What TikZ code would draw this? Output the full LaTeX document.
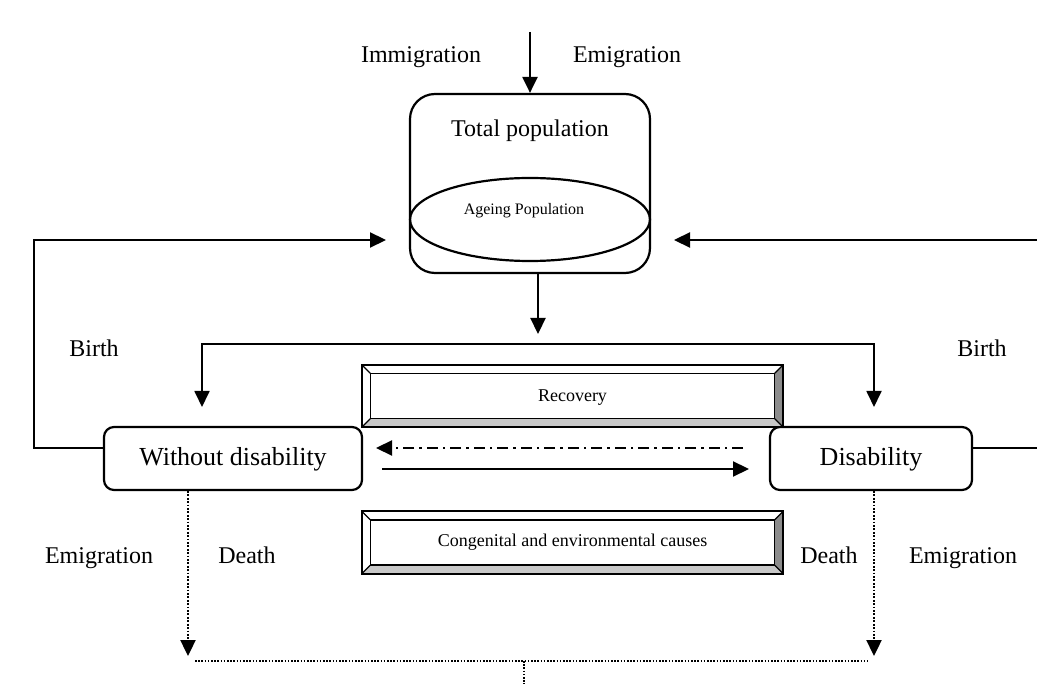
\documentclass[tikz,border=0pt]{standalone}
\usepackage{fontspec}
\setmainfont{Liberation Serif}
\usetikzlibrary{shapes.geometric,arrows.meta,calc}
\definecolor{bevR}{HTML}{8C8C8C}
\definecolor{bevB}{HTML}{C8C8C8}
\newcommand\bevelfill[1]{%
  \fill[bevR] (#1.north east) -- (#1.south east) -- ($(#1.south east)+(-8.5,-8.5)$) -- ($(#1.north east)+(-8.5,8.5)$) -- cycle;
  \fill[bevB] (#1.south west) -- (#1.south east) -- ($(#1.south east)+(-8.5,-8.5)$) -- ($(#1.south west)+(8.5,-8.5)$) -- cycle;
  \draw[line width=1.5pt] ($(#1.north west)+(8.5,8.5)$) rectangle ($(#1.south east)+(-8.5,-8.5)$);
  \draw[line width=1.1pt] (#1.north west) -- ++(8.5,8.5);
  \draw[line width=1.1pt] (#1.north east) -- ++(-8.5,8.5);
  \draw[line width=1.1pt] (#1.south west) -- ++(8.5,-8.5);
  \draw[line width=1.1pt] (#1.south east) -- ++(-8.5,-8.5);
  \draw[line width=2.2pt] (#1.north west) rectangle (#1.south east);
}
\begin{document}
\begin{tikzpicture}[x=1pt,y=-1pt,
  tipstyle/.style={-{Triangle[length=16pt,width=15pt]}},
  arr/.style={line width=2.2pt,tipstyle},
  dotarr/.style={line width=2.4pt,dash pattern=on 1.8pt off 1.6pt,tipstyle},
  dotline/.style={line width=1.9pt,dash pattern=on 1.6pt off 1.6pt},
  lab/.style={font=\fontsize{24}{28}\selectfont,inner sep=0pt,anchor=base},
  rbox/.style={draw,line width=2.2pt,rounded corners=10pt,inner sep=0pt,minimum height=63pt},
  bevelbox/.style={inner sep=0pt,minimum width=421pt,minimum height=62pt},
  boxtext/.style={font=\fontsize{26}{30}\selectfont,inner sep=0pt,anchor=base},
  smalltext/.style={font=\fontsize{18}{20}\selectfont,inner sep=0pt,anchor=base}]
\useasboundingbox (0,0) rectangle (1037,684);

% top population store
\node[draw,line width=2.2pt,rounded corners=25pt,minimum width=240pt,minimum height=179pt,inner sep=0pt] (tp) at (530,183.5) {};
\node[lab] (tpl) at (530,136.5) {Total population};
\node[draw,ellipse,line width=2.2pt,minimum width=240pt,minimum height=83pt,inner sep=0pt] (ag) at (530,219.5) {};
\node[font=\fontsize{16}{18}\selectfont,inner sep=0pt,anchor=base] (agl) at (524,215) {Ageing Population};

\node[lab] (immi) at (421,63) {Immigration};
\node[lab] (emit) at (627,63) {Emigration};

% state boxes
\node[rbox,minimum width=258pt] (wo) at (233,458.5) {};
\node[boxtext] (wol) at (233,466) {Without disability};
\node[rbox,minimum width=202pt] (dis) at (871,458.5) {};
\node[boxtext] (disl) at (871,466) {Disability};

% bevel boxes
\node[bevelbox] (rec) at (572.5,396) {};
\bevelfill{rec}
\node[smalltext] (recl) at (572.5,401.5) {Recovery};
\node[bevelbox] (cong) at (572.5,542.5) {};
\bevelfill{cong}
\node[smalltext] (congl) at (572.5,547) {Congenital and environmental causes};

% labels
\node[lab] (birthL) at (94,356.5) {Birth};
\node[lab] (birthR) at (982,356.5) {Birth};
\node[lab] (emiL) at (99,564) {Emigration};
\node[lab] (deathL) at (247,564) {Death};
\node[lab] (deathR) at (829,564) {Death};
\node[lab] (emiR) at (963,564) {Emigration};

% coordinates
\coordinate (topin) at (530,32);
\coordinate (lrow) at (0,448);
\coordinate (lc1) at (34,448);
\coordinate (lc2) at (34,240);
\coordinate (lend) at (386,240);
\coordinate (redge1) at (1037,240);
\coordinate (rend) at (674,240);
\coordinate (redge2) at (1037,448);
\coordinate (dstart) at (538,273);
\coordinate (dend) at (538,334);
\coordinate (bl) at (202,344);
\coordinate (br) at (874,344);
\coordinate (bl2) at (202,407);
\coordinate (br2) at (874,407);
\coordinate (dd1) at (743,448);
\coordinate (dd2) at (376,448);
\coordinate (so1) at (382,469);
\coordinate (so2) at (749,469);
\coordinate (dlx) at (188,0);
\coordinate (drx) at (874,0);
\coordinate (dl2) at (188,656);
\coordinate (dr2) at (874,656);
\coordinate (h1) at (195,661);
\coordinate (h2) at (868,661);
\coordinate (hm) at (524,661);
\coordinate (hb) at (524,684);

% connectors
\draw[arr] (topin) -- (tp.north);
\draw[arr,line join=miter] (lrow -| wo.west) -- (lc1) -- (lc2) -- (lend);
\draw[arr] (redge1) -- (rend);
\draw[line width=1.4pt] (lrow -| dis.east) -- (redge2);
\draw[arr] (dstart) -- (dend);
\draw[arr,line width=1.8pt] (br) -- (bl) -- (bl2);
\draw[arr,line width=1.8pt] (bl) -- (br) -- (br2);
\draw[arr,dash pattern=on 11pt off 5pt on 2.5pt off 5pt] (dd1) -- (dd2);
\draw[arr] (so1) -- (so2);
\draw[dotarr] (wo.south -| dlx) -- (dl2);
\draw[dotarr] (dis.south -| drx) -- (dr2);
\draw[dotline] (h1) -- (h2);
\draw[dotline] (hm) -- (hb);
\end{tikzpicture}
\end{document}
